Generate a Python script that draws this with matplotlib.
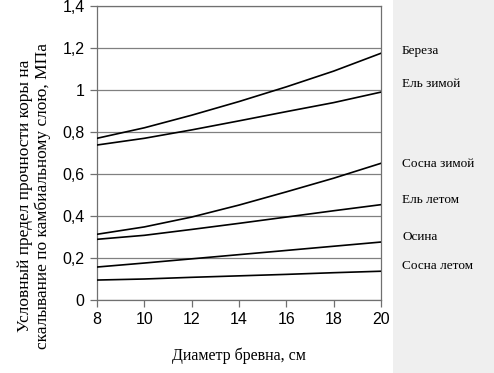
import numpy as np
import matplotlib
matplotlib.use("Agg")
import matplotlib.pyplot as plt
from matplotlib.patches import Rectangle

# --- data ---
diam = [8, 10, 12, 14, 16, 18, 20]
bereza = [0.77, 0.82, 0.88, 0.945, 1.015, 1.09, 1.175]
el_zima = [0.738, 0.77, 0.81, 0.853, 0.897, 0.94, 0.99]
sosna_zima = [0.313, 0.348, 0.395, 0.452, 0.515, 0.58, 0.651]
el_leto = [0.289, 0.308, 0.336, 0.365, 0.395, 0.425, 0.454]
osina = [0.157, 0.176, 0.196, 0.216, 0.236, 0.256, 0.276]
sosna_leto = [0.095, 0.10, 0.108, 0.115, 0.122, 0.13, 0.137]

names = ["Береза", "Ель зимой", "Сосна зимой", "Ель летом", "Осина", "Сосна летом"]
series = [bereza, el_zima, sosna_zima, el_leto, osina, sosna_leto]
label_y_px = [51, 84, 164, 200, 237, 266]   # label centres, pixels from top
ytick_labels = ["0", "0,2", "0,4", "0,6", "0,8", "1", "1,2", "1,4"]

W, H = 494, 373
fig = plt.figure(figsize=(W / 100, H / 100), dpi=100)

# grey strip on the right where the labels sit
fig.patches.append(Rectangle((393 / W, 0), 1 - 393 / W, 1, transform=fig.transFigure,
                             facecolor="#efefef", edgecolor="none", zorder=0))

ax = fig.add_axes([97 / W, (H - 300) / H, 284 / W, 294 / H])

for s in series:
    ax.plot(diam, s, color="black", lw=1.2, zorder=3)

ax.set_xlim(8, 20)
ax.set_ylim(0, 1.4)
ax.set_xticks(np.arange(8, 21, 2))
ax.set_yticks(np.linspace(0, 1.4, 8))
ax.set_yticklabels(ytick_labels)
ax.grid(axis="y", color="#808080", lw=0.9)
ax.set_axisbelow(True)
for sp in ax.spines.values():
    sp.set_color("#707070")
    sp.set_linewidth(0.9)
ax.tick_params(direction="out", length=5, width=0.9, color="#707070",
               labelsize=11.5, pad=4)
for lab in ax.get_xticklabels() + ax.get_yticklabels():
    lab.set_family("Liberation Sans")

for name, py in zip(names, label_y_px):
    fig.text(402 / W, 1 - py / H, name, family="Liberation Serif", fontsize=9.5,
             ha="left", va="center")

fig.text(34 / W, 1 - 196 / H,
         "Условный предел прочности коры на\nскалывание по камбиальному слою, МПа",
         family="Liberation Serif", fontsize=12.5, rotation=90,
         ha="center", va="center", multialignment="center", linespacing=1.05)
fig.text(239 / W, 1 - 356 / H, "Диаметр бревна, см", family="Liberation Serif",
         fontsize=11.5, ha="center", va="center")

fig.savefig("out.png", dpi=100)
